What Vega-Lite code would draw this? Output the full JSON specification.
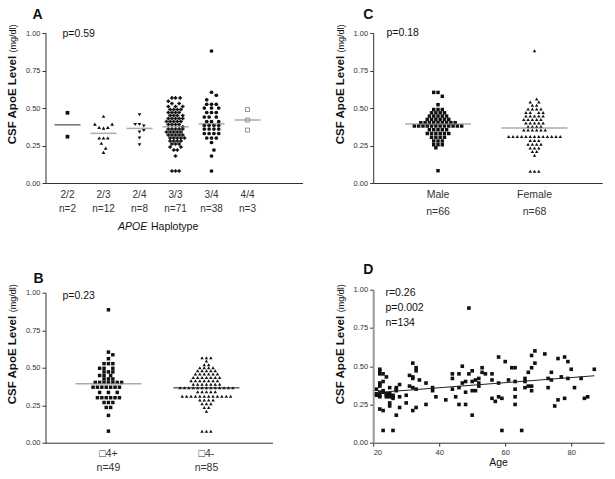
{
"$schema":"https://vega.github.io/schema/vega-lite/v6.json",
"background":"white",
"padding":{"left":5.5,"top":7,"right":5,"bottom":5},
"config":{"font":"Liberation Sans","view":{"stroke":null},
"axis":{"grid":false,"domainColor":"#333","tickColor":"#333","labelColor":"#333","titleColor":"#111","labelFontSize":7.5,"tickSize":3.5,"labelPadding":2,"titleFontWeight":"normal"},
"title":{"fontSize":14,"fontWeight":"bold","anchor":"start","frame":"group","color":"#111","baseline":"alphabetic"}},
"datasets":{
"A":[
{"g":"2/2","v":0.468,"s":0},{"g":"2/2","v":0.309,"s":0},
{"g":"2/3","v":0.445,"s":0},{"g":"2/3","v":0.393,"s":-2.4},{"g":"2/3","v":0.371,"s":-1.2},{"g":"2/3","v":0.366,"s":0},{"g":"2/3","v":0.371,"s":1.2},{"g":"2/3","v":0.393,"s":2.4},{"g":"2/3","v":0.3,"s":-1.2},{"g":"2/3","v":0.3,"s":0},{"g":"2/3","v":0.3,"s":1.2},{"g":"2/3","v":0.265,"s":-0.6},{"g":"2/3","v":0.233,"s":0.6},{"g":"2/3","v":0.204,"s":0},
{"g":"2/4","v":0.455,"s":0},{"g":"2/4","v":0.39,"s":-1.2},{"g":"2/4","v":0.39,"s":0},{"g":"2/4","v":0.38,"s":1.2},{"g":"2/4","v":0.35,"s":1.2},{"g":"2/4","v":0.34,"s":0},{"g":"2/4","v":0.3,"s":0},{"g":"2/4","v":0.255,"s":0},
{"g":"3/3","v":0.567,"s":-1},{"g":"3/3","v":0.567,"s":0},{"g":"3/3","v":0.567,"s":1.3},
{"g":"3/3","v":0.545,"s":-2},
{"g":"3/3","v":0.53,"s":-1},{"g":"3/3","v":0.53,"s":1},
{"g":"3/3","v":0.51,"s":-2},{"g":"3/3","v":0.51,"s":0},{"g":"3/3","v":0.51,"s":2},
{"g":"3/3","v":0.49,"s":-1.5},{"g":"3/3","v":0.49,"s":-0.5},{"g":"3/3","v":0.49,"s":0.5},{"g":"3/3","v":0.49,"s":1.5},
{"g":"3/3","v":0.47,"s":-2},{"g":"3/3","v":0.47,"s":-1},{"g":"3/3","v":0.47,"s":0},{"g":"3/3","v":0.47,"s":1},
{"g":"3/3","v":0.45,"s":-1.5},{"g":"3/3","v":0.45,"s":-0.5},{"g":"3/3","v":0.45,"s":0.5},{"g":"3/3","v":0.45,"s":2},
{"g":"3/3","v":0.43,"s":-2},{"g":"3/3","v":0.43,"s":-1},{"g":"3/3","v":0.43,"s":0},{"g":"3/3","v":0.43,"s":1},{"g":"3/3","v":0.43,"s":2},
{"g":"3/3","v":0.41,"s":-2.5},{"g":"3/3","v":0.41,"s":-1.5},{"g":"3/3","v":0.41,"s":-0.5},{"g":"3/3","v":0.41,"s":0.5},{"g":"3/3","v":0.41,"s":1.5},
{"g":"3/3","v":0.39,"s":-2},{"g":"3/3","v":0.39,"s":-1},{"g":"3/3","v":0.39,"s":0},{"g":"3/3","v":0.39,"s":1},
{"g":"3/3","v":0.375,"s":2},
{"g":"3/3","v":0.36,"s":-2},{"g":"3/3","v":0.36,"s":-1},{"g":"3/3","v":0.36,"s":0},{"g":"3/3","v":0.36,"s":1},{"g":"3/3","v":0.36,"s":2},
{"g":"3/3","v":0.34,"s":-2.5},{"g":"3/3","v":0.34,"s":-1.5},{"g":"3/3","v":0.34,"s":-0.5},{"g":"3/3","v":0.34,"s":0.5},{"g":"3/3","v":0.34,"s":1.5},
{"g":"3/3","v":0.32,"s":-2},{"g":"3/3","v":0.32,"s":-1},{"g":"3/3","v":0.32,"s":0},{"g":"3/3","v":0.32,"s":1},{"g":"3/3","v":0.32,"s":2},
{"g":"3/3","v":0.3,"s":-1.5},{"g":"3/3","v":0.3,"s":-0.5},{"g":"3/3","v":0.3,"s":0.5},{"g":"3/3","v":0.3,"s":1.5},{"g":"3/3","v":0.3,"s":2.5},
{"g":"3/3","v":0.28,"s":-1.5},{"g":"3/3","v":0.28,"s":-0.5},{"g":"3/3","v":0.28,"s":0.5},{"g":"3/3","v":0.28,"s":1.5},
{"g":"3/3","v":0.26,"s":-1},{"g":"3/3","v":0.26,"s":0},{"g":"3/3","v":0.26,"s":1},
{"g":"3/3","v":0.24,"s":-1.5},{"g":"3/3","v":0.24,"s":1.5},
{"g":"3/3","v":0.22,"s":-0.5},{"g":"3/3","v":0.22,"s":0.5},
{"g":"3/3","v":0.18,"s":0},
{"g":"3/3","v":0.08,"s":-1},{"g":"3/3","v":0.08,"s":0},{"g":"3/3","v":0.08,"s":1},
{"g":"3/4","v":0.88,"s":0},{"g":"3/4","v":0.605,"s":0},{"g":"3/4","v":0.585,"s":1.33},{"g":"3/4","v":0.555,"s":-1.33},
{"g":"3/4","v":0.525,"s":-1.33},{"g":"3/4","v":0.525,"s":0},{"g":"3/4","v":0.525,"s":1.33},
{"g":"3/4","v":0.5,"s":-2},{"g":"3/4","v":0.5,"s":0},{"g":"3/4","v":0.5,"s":2},
{"g":"3/4","v":0.47,"s":-1.33},{"g":"3/4","v":0.47,"s":0},{"g":"3/4","v":0.47,"s":1.33},
{"g":"3/4","v":0.44,"s":-2},{"g":"3/4","v":0.44,"s":-0.67},{"g":"3/4","v":0.44,"s":1.33},
{"g":"3/4","v":0.41,"s":-1.33},{"g":"3/4","v":0.41,"s":0},{"g":"3/4","v":0.41,"s":2},
{"g":"3/4","v":0.385,"s":-2},{"g":"3/4","v":0.385,"s":-0.67},{"g":"3/4","v":0.385,"s":0.67},{"g":"3/4","v":0.385,"s":2},
{"g":"3/4","v":0.36,"s":-2},{"g":"3/4","v":0.36,"s":-0.67},{"g":"3/4","v":0.36,"s":0.67},{"g":"3/4","v":0.36,"s":2},
{"g":"3/4","v":0.33,"s":-2},{"g":"3/4","v":0.33,"s":-0.67},{"g":"3/4","v":0.33,"s":0.67},{"g":"3/4","v":0.33,"s":2},
{"g":"3/4","v":0.3,"s":-1.33},{"g":"3/4","v":0.3,"s":0},{"g":"3/4","v":0.3,"s":1.33},
{"g":"3/4","v":0.27,"s":0},{"g":"3/4","v":0.22,"s":0.67},{"g":"3/4","v":0.18,"s":0},{"g":"3/4","v":0.08,"s":0},
{"g":"4/4","v":0.49,"s":0},{"g":"4/4","v":0.42,"s":0},{"g":"4/4","v":0.353,"s":0}
],
"Amed":[{"g":"2/2","v":0.388},{"g":"2/3","v":0.331},{"g":"2/4","v":0.364},{"g":"3/3","v":0.375},{"g":"3/4","v":0.395},{"g":"4/4","v":0.42}],
"Atxt":[{"g":"2/2","v":0.972,"t":"p=0.59"}],
"B":[
{"g":"□4+","v":0.886,"s":0},{"g":"□4+","v":0.604,"s":0},{"g":"□4+","v":0.586,"s":1},{"g":"□4+","v":0.56,"s":0},
{"g":"□4+","v":0.527,"s":-1},{"g":"□4+","v":0.527,"s":0},{"g":"□4+","v":0.527,"s":1},
{"g":"□4+","v":0.496,"s":-2},{"g":"□4+","v":0.496,"s":-1},{"g":"□4+","v":0.496,"s":1},
{"g":"□4+","v":0.472,"s":-1},{"g":"□4+","v":0.472,"s":0},{"g":"□4+","v":0.472,"s":1},
{"g":"□4+","v":0.448,"s":-2},{"g":"□4+","v":0.448,"s":-1},{"g":"□4+","v":0.448,"s":0.5},
{"g":"□4+","v":0.425,"s":-1},{"g":"□4+","v":0.425,"s":0},{"g":"□4+","v":0.425,"s":1},
{"g":"□4+","v":0.402,"s":-3},{"g":"□4+","v":0.402,"s":-2},{"g":"□4+","v":0.402,"s":-1},{"g":"□4+","v":0.402,"s":0},{"g":"□4+","v":0.402,"s":1},{"g":"□4+","v":0.402,"s":2},{"g":"□4+","v":0.402,"s":3},
{"g":"□4+","v":0.37,"s":-3.5},{"g":"□4+","v":0.37,"s":-2.5},{"g":"□4+","v":0.37,"s":-1.5},{"g":"□4+","v":0.37,"s":-0.5},{"g":"□4+","v":0.37,"s":0.5},{"g":"□4+","v":0.37,"s":1.5},{"g":"□4+","v":0.37,"s":2.5},
{"g":"□4+","v":0.335,"s":-2},{"g":"□4+","v":0.335,"s":0},{"g":"□4+","v":0.335,"s":2},
{"g":"□4+","v":0.3,"s":-2.5},{"g":"□4+","v":0.3,"s":-1.5},{"g":"□4+","v":0.3,"s":-0.5},{"g":"□4+","v":0.3,"s":0.5},{"g":"□4+","v":0.3,"s":1.5},{"g":"□4+","v":0.3,"s":2.5},
{"g":"□4+","v":0.268,"s":-1},{"g":"□4+","v":0.268,"s":0},{"g":"□4+","v":0.268,"s":1},
{"g":"□4+","v":0.235,"s":-0.5},{"g":"□4+","v":0.235,"s":0.5},
{"g":"□4+","v":0.182,"s":0},{"g":"□4+","v":0.077,"s":0},
{"g":"□4-","v":0.566,"s":-1},{"g":"□4-","v":0.566,"s":0},{"g":"□4-","v":0.566,"s":1},
{"g":"□4-","v":0.545,"s":0},
{"g":"□4-","v":0.52,"s":-0.5},{"g":"□4-","v":0.52,"s":0.5},
{"g":"□4-","v":0.5,"s":-1.5},{"g":"□4-","v":0.5,"s":-0.5},{"g":"□4-","v":0.5,"s":0.5},{"g":"□4-","v":0.5,"s":1.5},
{"g":"□4-","v":0.48,"s":-2},{"g":"□4-","v":0.48,"s":-1},{"g":"□4-","v":0.48,"s":0},{"g":"□4-","v":0.48,"s":1},{"g":"□4-","v":0.48,"s":2},
{"g":"□4-","v":0.458,"s":-2.5},{"g":"□4-","v":0.458,"s":-1.5},{"g":"□4-","v":0.458,"s":-0.5},{"g":"□4-","v":0.458,"s":0.5},{"g":"□4-","v":0.458,"s":1.5},{"g":"□4-","v":0.458,"s":2.5},
{"g":"□4-","v":0.435,"s":-3},{"g":"□4-","v":0.435,"s":-2},{"g":"□4-","v":0.435,"s":-1},{"g":"□4-","v":0.435,"s":0},{"g":"□4-","v":0.435,"s":1},{"g":"□4-","v":0.435,"s":2},{"g":"□4-","v":0.435,"s":3},
{"g":"□4-","v":0.413,"s":-3.5},{"g":"□4-","v":0.413,"s":-2.5},{"g":"□4-","v":0.413,"s":-1.5},{"g":"□4-","v":0.413,"s":-0.5},{"g":"□4-","v":0.413,"s":0.5},{"g":"□4-","v":0.413,"s":1.5},{"g":"□4-","v":0.413,"s":2.5},
{"g":"□4-","v":0.39,"s":-3},{"g":"□4-","v":0.39,"s":-2},{"g":"□4-","v":0.39,"s":-1},{"g":"□4-","v":0.39,"s":0},{"g":"□4-","v":0.39,"s":1},{"g":"□4-","v":0.39,"s":2},{"g":"□4-","v":0.39,"s":3},
{"g":"□4-","v":0.366,"s":-6},{"g":"□4-","v":0.366,"s":-5},{"g":"□4-","v":0.366,"s":-4},{"g":"□4-","v":0.366,"s":-3},{"g":"□4-","v":0.366,"s":-2},{"g":"□4-","v":0.366,"s":-1},{"g":"□4-","v":0.366,"s":0},{"g":"□4-","v":0.366,"s":1},{"g":"□4-","v":0.366,"s":2},{"g":"□4-","v":0.366,"s":3},{"g":"□4-","v":0.366,"s":4},{"g":"□4-","v":0.366,"s":5},{"g":"□4-","v":0.366,"s":6},
{"g":"□4-","v":0.34,"s":-2},{"g":"□4-","v":0.34,"s":-1},{"g":"□4-","v":0.34,"s":0},{"g":"□4-","v":0.34,"s":1},{"g":"□4-","v":0.34,"s":2},
{"g":"□4-","v":0.31,"s":-5.5},{"g":"□4-","v":0.31,"s":-4.5},{"g":"□4-","v":0.31,"s":-3.5},{"g":"□4-","v":0.31,"s":-2.5},{"g":"□4-","v":0.31,"s":-1.5},{"g":"□4-","v":0.31,"s":-0.5},{"g":"□4-","v":0.31,"s":0.5},{"g":"□4-","v":0.31,"s":1.5},{"g":"□4-","v":0.31,"s":2.5},{"g":"□4-","v":0.31,"s":3.5},{"g":"□4-","v":0.31,"s":4.5},{"g":"□4-","v":0.31,"s":5.5},
{"g":"□4-","v":0.285,"s":-1.5},{"g":"□4-","v":0.285,"s":-0.5},{"g":"□4-","v":0.285,"s":0.5},{"g":"□4-","v":0.285,"s":1.5},
{"g":"□4-","v":0.26,"s":-1},{"g":"□4-","v":0.26,"s":0},{"g":"□4-","v":0.26,"s":1},
{"g":"□4-","v":0.235,"s":-0.5},{"g":"□4-","v":0.235,"s":0.5},
{"g":"□4-","v":0.21,"s":0},
{"g":"□4-","v":0.077,"s":-1},{"g":"□4-","v":0.077,"s":0},{"g":"□4-","v":0.077,"s":1}
],
"Bmed":[{"g":"□4+","v":0.393},{"g":"□4-","v":0.366}],
"Btxt":[{"g":"□4+","v":0.958,"t":"p=0.23"}],
"C":[
{"g":"Male","v":0.604,"s":-1},{"g":"Male","v":0.604,"s":0},{"g":"Male","v":0.578,"s":1},{"g":"Male","v":0.522,"s":0},
{"g":"Male","v":0.49,"s":-1},{"g":"Male","v":0.49,"s":0},{"g":"Male","v":0.49,"s":1},
{"g":"Male","v":0.468,"s":-1.5},{"g":"Male","v":0.468,"s":-0.5},{"g":"Male","v":0.468,"s":0.5},{"g":"Male","v":0.468,"s":1.5},
{"g":"Male","v":0.446,"s":-2},{"g":"Male","v":0.446,"s":-1},{"g":"Male","v":0.446,"s":0},{"g":"Male","v":0.446,"s":1},{"g":"Male","v":0.446,"s":2},
{"g":"Male","v":0.424,"s":-2.5},{"g":"Male","v":0.424,"s":-1.5},{"g":"Male","v":0.424,"s":-0.5},{"g":"Male","v":0.424,"s":0.5},{"g":"Male","v":0.424,"s":1.5},{"g":"Male","v":0.424,"s":2.5},
{"g":"Male","v":0.402,"s":-4},{"g":"Male","v":0.402,"s":-3},{"g":"Male","v":0.402,"s":-2},{"g":"Male","v":0.402,"s":-1},{"g":"Male","v":0.402,"s":0},{"g":"Male","v":0.402,"s":1},{"g":"Male","v":0.402,"s":2},{"g":"Male","v":0.402,"s":3},{"g":"Male","v":0.402,"s":4},
{"g":"Male","v":0.38,"s":-5.5},{"g":"Male","v":0.38,"s":-4.5},{"g":"Male","v":0.38,"s":-3.5},{"g":"Male","v":0.38,"s":-2.5},{"g":"Male","v":0.38,"s":-1.5},{"g":"Male","v":0.38,"s":-0.5},{"g":"Male","v":0.38,"s":0.5},{"g":"Male","v":0.38,"s":1.5},{"g":"Male","v":0.38,"s":2.5},{"g":"Male","v":0.38,"s":3.5},{"g":"Male","v":0.38,"s":4.5},{"g":"Male","v":0.38,"s":5.5},
{"g":"Male","v":0.355,"s":-2},{"g":"Male","v":0.355,"s":-1},{"g":"Male","v":0.355,"s":0},{"g":"Male","v":0.355,"s":1},{"g":"Male","v":0.355,"s":2},
{"g":"Male","v":0.33,"s":-2.5},{"g":"Male","v":0.33,"s":-1.5},{"g":"Male","v":0.33,"s":-0.5},{"g":"Male","v":0.33,"s":0.5},{"g":"Male","v":0.33,"s":1.5},{"g":"Male","v":0.33,"s":2.5},
{"g":"Male","v":0.305,"s":-1.5},{"g":"Male","v":0.305,"s":-0.5},{"g":"Male","v":0.305,"s":0.5},{"g":"Male","v":0.305,"s":1.5},
{"g":"Male","v":0.28,"s":-1},{"g":"Male","v":0.28,"s":0},{"g":"Male","v":0.28,"s":1},
{"g":"Male","v":0.255,"s":-1},{"g":"Male","v":0.255,"s":0},{"g":"Male","v":0.255,"s":1},
{"g":"Male","v":0.235,"s":-0.5},{"g":"Male","v":0.082,"s":0},
{"g":"Female","v":0.882,"s":0},{"g":"Female","v":0.56,"s":0.5},{"g":"Female","v":0.54,"s":-1},{"g":"Female","v":0.54,"s":1},
{"g":"Female","v":0.518,"s":-0.5},{"g":"Female","v":0.518,"s":0.5},
{"g":"Female","v":0.493,"s":-1.5},{"g":"Female","v":0.493,"s":-0.5},{"g":"Female","v":0.493,"s":0.5},{"g":"Female","v":0.493,"s":1.5},
{"g":"Female","v":0.47,"s":-2},{"g":"Female","v":0.47,"s":-1},{"g":"Female","v":0.47,"s":1},{"g":"Female","v":0.47,"s":2},
{"g":"Female","v":0.447,"s":-2},{"g":"Female","v":0.447,"s":-1},{"g":"Female","v":0.447,"s":0},{"g":"Female","v":0.447,"s":1},{"g":"Female","v":0.447,"s":2},
{"g":"Female","v":0.424,"s":-2.5},{"g":"Female","v":0.424,"s":-1.5},{"g":"Female","v":0.424,"s":-0.5},{"g":"Female","v":0.424,"s":0.5},{"g":"Female","v":0.424,"s":1.5},
{"g":"Female","v":0.4,"s":-2},{"g":"Female","v":0.4,"s":-1},{"g":"Female","v":0.4,"s":0},{"g":"Female","v":0.4,"s":1},{"g":"Female","v":0.4,"s":2},
{"g":"Female","v":0.377,"s":-1.5},{"g":"Female","v":0.377,"s":-0.5},{"g":"Female","v":0.377,"s":0.5},{"g":"Female","v":0.377,"s":1.5},
{"g":"Female","v":0.354,"s":-2.5},{"g":"Female","v":0.354,"s":-1.5},{"g":"Female","v":0.354,"s":-0.5},{"g":"Female","v":0.354,"s":0.5},{"g":"Female","v":0.354,"s":1.5},{"g":"Female","v":0.354,"s":2.5},
{"g":"Female","v":0.31,"s":-6},{"g":"Female","v":0.31,"s":-5},{"g":"Female","v":0.31,"s":-4},{"g":"Female","v":0.31,"s":-3},{"g":"Female","v":0.31,"s":-2},{"g":"Female","v":0.31,"s":-1},{"g":"Female","v":0.31,"s":0},{"g":"Female","v":0.31,"s":1},{"g":"Female","v":0.31,"s":2},{"g":"Female","v":0.31,"s":3},{"g":"Female","v":0.31,"s":4},{"g":"Female","v":0.31,"s":5},{"g":"Female","v":0.31,"s":6},
{"g":"Female","v":0.283,"s":-1},{"g":"Female","v":0.283,"s":0},{"g":"Female","v":0.283,"s":1},
{"g":"Female","v":0.258,"s":-1.5},{"g":"Female","v":0.258,"s":-0.5},{"g":"Female","v":0.258,"s":0.5},{"g":"Female","v":0.258,"s":1.5},
{"g":"Female","v":0.233,"s":-1},{"g":"Female","v":0.233,"s":0},{"g":"Female","v":0.233,"s":1},
{"g":"Female","v":0.21,"s":-0.5},{"g":"Female","v":0.21,"s":0.5},
{"g":"Female","v":0.185,"s":0},
{"g":"Female","v":0.078,"s":-1},{"g":"Female","v":0.078,"s":0},{"g":"Female","v":0.078,"s":1}
],
"Cmed":[{"g":"Male","v":0.393},{"g":"Female","v":0.366}],
"Ctxt":[{"g":"Male","v":0.977,"t":"p=0.18"}],
"D":[
{"a":21,"v":0.32},{"a":21,"v":0.31},{"a":21,"v":0.35},
{"a":22,"v":0.48},{"a":22,"v":0.47},{"a":22,"v":0.45},{"a":22,"v":0.38},{"a":22,"v":0.37},{"a":22,"v":0.33},{"a":22,"v":0.3},{"a":22,"v":0.22},{"a":22,"v":0.39},{"a":22,"v":0.31},
{"a":23,"v":0.45},{"a":23,"v":0.4},{"a":23,"v":0.33},{"a":23,"v":0.21},{"a":23,"v":0.08},{"a":23,"v":0.34},
{"a":24,"v":0.43},{"a":24,"v":0.31},{"a":24,"v":0.3},{"a":24,"v":0.32},
{"a":25,"v":0.36},{"a":25,"v":0.32},{"a":25,"v":0.3},{"a":25,"v":0.26},{"a":25,"v":0.24},{"a":25,"v":0.31},
{"a":26,"v":0.31},{"a":26,"v":0.3},{"a":26,"v":0.08},{"a":26,"v":0.29},
{"a":27,"v":0.36},{"a":27,"v":0.34},{"a":27,"v":0.18},{"a":27,"v":0.35},
{"a":28,"v":0.38},{"a":28,"v":0.3},{"a":28,"v":0.23},
{"a":30,"v":0.31},{"a":30,"v":0.26},
{"a":31,"v":0.44},{"a":31,"v":0.37},
{"a":32,"v":0.52},{"a":32,"v":0.43},{"a":32,"v":0.36},{"a":32,"v":0.21},{"a":32,"v":0.42},
{"a":33,"v":0.49},{"a":33,"v":0.47},{"a":33,"v":0.35},{"a":33,"v":0.23},
{"a":34,"v":0.41},
{"a":36,"v":0.39},{"a":36,"v":0.25},
{"a":38,"v":0.36},{"a":38,"v":0.34},
{"a":39,"v":0.3},
{"a":42,"v":0.28},
{"a":44,"v":0.45},{"a":44,"v":0.42},{"a":44,"v":0.35},
{"a":45,"v":0.3},
{"a":46,"v":0.45},{"a":46,"v":0.36},{"a":46,"v":0.25},
{"a":47,"v":0.5},{"a":47,"v":0.39},
{"a":48,"v":0.4},{"a":48,"v":0.33},{"a":48,"v":0.25},
{"a":49,"v":0.88},{"a":49,"v":0.45},
{"a":50,"v":0.47},{"a":50,"v":0.4},{"a":50,"v":0.34},{"a":50,"v":0.18},
{"a":51,"v":0.41},{"a":51,"v":0.34},
{"a":52,"v":0.42},{"a":52,"v":0.39},{"a":52,"v":0.37},
{"a":53,"v":0.49},{"a":53,"v":0.46},
{"a":54,"v":0.45},
{"a":56,"v":0.45},{"a":56,"v":0.41},{"a":56,"v":0.29},
{"a":57,"v":0.27},
{"a":58,"v":0.56},{"a":58,"v":0.39},{"a":58,"v":0.3},
{"a":59,"v":0.29},{"a":59,"v":0.08},
{"a":60,"v":0.53},
{"a":61,"v":0.41},
{"a":62,"v":0.49},
{"a":63,"v":0.49},{"a":63,"v":0.4},{"a":63,"v":0.35},{"a":63,"v":0.3},{"a":63,"v":0.25},
{"a":65,"v":0.08},
{"a":66,"v":0.42},{"a":66,"v":0.4},{"a":66,"v":0.36},
{"a":67,"v":0.46},{"a":67,"v":0.37},
{"a":68,"v":0.57},{"a":68,"v":0.49},{"a":68,"v":0.37},{"a":68,"v":0.34},
{"a":69,"v":0.6},{"a":69,"v":0.52},
{"a":72,"v":0.58},
{"a":73,"v":0.42},{"a":73,"v":0.36},
{"a":74,"v":0.46},{"a":74,"v":0.41},
{"a":75,"v":0.24},
{"a":76,"v":0.55},{"a":76,"v":0.28},
{"a":77,"v":0.43},
{"a":78,"v":0.56},{"a":78,"v":0.29},
{"a":79,"v":0.53},{"a":79,"v":0.42},
{"a":80,"v":0.48},
{"a":81,"v":0.36},
{"a":83,"v":0.42},
{"a":84,"v":0.29},
{"a":85,"v":0.3},
{"a":87,"v":0.48}
],
"Dtxt":[{"a":23.7,"v":0.961,"t":"r=0.26\np=0.002\nn=134"}]
},
"columns":2,
"align":"each",
"bounds":"flush",
"spacing":{"row":106.7,"column":70.7},
"resolve":{"scale":{"shape":"independent","color":"independent","xOffset":"independent"}},
"concat":[
{
"title":{"text":"A","dx":-13,"offset":2},
"width":257,"height":150,
"resolve":{"axis":{"x":"independent","y":"independent"}},
"layer":[
{"data":{"name":"A"},"transform":[{"filter":"datum.g != '4/4'"}],
"mark":{"type":"point","filled":true,"color":"#111","opacity":1,"size":14},
"encoding":{
"x":{"field":"g","type":"nominal","sort":["2/2","2/3","2/4","3/3","3/4","4/4"],"scale":{"domain":["2/2","2/3","2/4","3/3","3/4","4/4"],"paddingInner":0,"paddingOuter":0.569,"align":0.0976},
"axis":{"title":"Haplotype","labelExpr":"datum.value=='2/2'?['2/2','n=2']:datum.value=='2/3'?['2/3','n=12']:datum.value=='2/4'?['2/4','n=8']:datum.value=='3/3'?['3/3','n=71']:datum.value=='3/4'?['3/4','n=38']:['4/4','n=3']","labelAngle":0,"ticks":false,"labelPadding":6,"labelFontSize":10,"labelLineHeight":14,"labelBaseline":"top","titleFontSize":10.5,"titleX":105,"titleY":46.7,"titleAlign":"left","titleBaseline":"alphabetic"}},
"xOffset":{"field":"s","type":"quantitative","scale":{"domain":[-5,5],"range":[0,36],"nice":false,"zero":false}},
"y":{"field":"v","type":"quantitative","scale":{"domain":[0,1],"nice":false},
"axis":{"title":"CSF ApoE Level","values":[0,0.25,0.5,0.75,1],"format":".2f","titleFontSize":11.5,"titleFontWeight":"bold","titleX":-30.5,"titleY":110.7,"titleAlign":"left","titleBaseline":"alphabetic","titleAngle":270}},
"shape":{"field":"g","type":"nominal","scale":{"domain":["2/2","2/3","2/4","3/3","3/4"],"range":["square","triangle-up","triangle-down","cross","circle"]},"legend":null}
}},
{"data":{"name":"A"},"transform":[{"filter":"datum.g == '4/4'"}],
"mark":{"type":"point","shape":"square","filled":false,"color":"#666","strokeWidth":1,"size":16},
"encoding":{"x":{"field":"g","type":"nominal","axis":null},"xOffset":{"field":"s","type":"quantitative"},"y":{"field":"v","type":"quantitative","axis":null}}},
{"data":{"name":"Amed"},
"mark":{"type":"tick","thickness":1.5,"size":26},
"encoding":{
"x":{"field":"g","type":"nominal","axis":{"orient":"bottom","title":"APOE","titleFontStyle":"italic","domain":false,"ticks":false,"labels":false,"titleFontSize":10.5,"titleX":72,"titleY":46.7,"titleAlign":"left","titleBaseline":"alphabetic"}},
"y":{"field":"v","type":"quantitative","axis":{"orient":"left","title":"(mg/dl)","domain":false,"ticks":false,"labels":false,"titleFontSize":9,"titleX":-30.5,"titleY":18.9,"titleAlign":"left","titleBaseline":"alphabetic","titleAngle":270}},
"color":{"field":"g","type":"nominal","scale":{"domain":["2/2","2/3","2/4","3/3","3/4","4/4"],"range":["#333","#888","#888","#888","#888","#888"]},"legend":null}
}},
{"data":{"name":"Atxt"},
"mark":{"type":"text","align":"left","baseline":"alphabetic","fontSize":10.5,"dx":-5,"color":"#111"},
"encoding":{"x":{"field":"g","type":"nominal","axis":null},"y":{"field":"v","type":"quantitative","axis":null},"text":{"field":"t"}}}
]
},
{
"title":{"text":"C","dx":-10,"offset":2},
"width":229,"height":150,
"resolve":{"axis":{"y":"independent"}},
"layer":[
{"data":{"name":"C"},
"mark":{"type":"point","filled":true,"color":"#111","opacity":1,"size":12},
"encoding":{
"x":{"field":"g","type":"nominal","sort":["Male","Female"],"scale":{"domain":["Male","Female"],"paddingInner":0,"paddingOuter":0.1865,"align":0.46},
"axis":{"title":null,"labelExpr":"datum.value=='Male'?['Male','n=66']:['Female','n=68']","labelAngle":0,"ticks":false,"labelPadding":6,"labelFontSize":10.5,"labelLineHeight":17,"labelBaseline":"top"}},
"xOffset":{"field":"s","type":"quantitative","scale":{"domain":[-11.22,11.22],"range":[0,96.5],"nice":false,"zero":false}},
"y":{"field":"v","type":"quantitative","scale":{"domain":[0,1],"nice":false},
"axis":{"title":"CSF ApoE Level","values":[0,0.25,0.5,0.75,1],"format":".2f","titleFontSize":11.5,"titleFontWeight":"bold","titleX":-30,"titleY":110.7,"titleAlign":"left","titleBaseline":"alphabetic","titleAngle":270}},
"shape":{"field":"g","type":"nominal","scale":{"domain":["Male","Female"],"range":["square","triangle-up"]},"legend":null}
}},
{"data":{"name":"Cmed"},
"mark":{"type":"tick","thickness":1.5,"size":66,"color":"#888"},
"encoding":{
"x":{"field":"g","type":"nominal"},
"y":{"field":"v","type":"quantitative","axis":{"orient":"left","title":"(mg/dl)","domain":false,"ticks":false,"labels":false,"titleFontSize":9,"titleX":-30,"titleY":18.9,"titleAlign":"left","titleBaseline":"alphabetic","titleAngle":270}}
}},
{"data":{"name":"Ctxt"},
"mark":{"type":"text","align":"left","baseline":"alphabetic","fontSize":10.5,"dx":-51.5,"color":"#111"},
"encoding":{"x":{"field":"g","type":"nominal"},"y":{"field":"v","type":"quantitative","axis":null},"text":{"field":"t"}}}
]
},
{
"title":{"text":"B","dx":-12,"offset":-2},
"width":227,"height":153,
"resolve":{"axis":{"y":"independent"}},
"layer":[
{"data":{"name":"B"},
"mark":{"type":"point","filled":true,"color":"#111","opacity":1,"size":12},
"encoding":{
"x":{"field":"g","type":"nominal","sort":["□4+","□4-"],"scale":{"domain":["□4+","□4-"],"paddingInner":0,"paddingOuter":0.158,"align":0.45},
"axis":{"title":null,"labelExpr":"datum.value=='□4+'?['□4+','n=49']:['□4-','n=85']","labelAngle":0,"ticks":false,"labelPadding":6,"labelFontSize":10.5,"labelLineHeight":14,"labelBaseline":"top"}},
"xOffset":{"field":"s","type":"quantitative","scale":{"domain":[-11.14,11.14],"range":[0,98],"nice":false,"zero":false}},
"y":{"field":"v","type":"quantitative","scale":{"domain":[0,1],"nice":false,"range":[153,3]},
"axis":{"title":"CSF ApoE Level","values":[0,0.25,0.5,0.75,1],"format":".2f","titleFontSize":11.5,"titleFontWeight":"bold","titleX":-30.5,"titleY":114,"titleAlign":"left","titleBaseline":"alphabetic","titleAngle":270}},
"shape":{"field":"g","type":"nominal","scale":{"domain":["□4+","□4-"],"range":["square","triangle-up"]},"legend":null}
}},
{"data":{"name":"Bmed"},
"mark":{"type":"tick","thickness":1.5,"size":66},
"encoding":{
"x":{"field":"g","type":"nominal"},
"y":{"field":"v","type":"quantitative","axis":{"orient":"left","title":"(mg/dl)","domain":false,"ticks":false,"labels":false,"titleFontSize":9,"titleX":-30.5,"titleY":22,"titleAlign":"left","titleBaseline":"alphabetic","titleAngle":270}},
"color":{"field":"g","type":"nominal","scale":{"domain":["□4+","□4-"],"range":["#888","#222"]},"legend":null}
}},
{"data":{"name":"Btxt"},
"mark":{"type":"text","align":"left","baseline":"alphabetic","fontSize":10.5,"dx":-46,"color":"#111"},
"encoding":{"x":{"field":"g","type":"nominal"},"y":{"field":"v","type":"quantitative","axis":null},"text":{"field":"t"}}}
]
},
{
"title":{"text":"D","dx":-10,"offset":7},
"width":231,"height":153,
"resolve":{"axis":{"y":"independent"}},
"layer":[
{"data":{"name":"D"},
"mark":{"type":"square","color":"#111","opacity":1,"size":13},
"encoding":{
"x":{"field":"a","type":"quantitative","scale":{"domain":[20,90],"nice":false,"zero":false},
"axis":{"title":"Age","values":[20,30,40,50,60,70,80,90],"titleFontSize":10.5,"titleX":124.8,"titleY":23,"titleBaseline":"alphabetic"}},
"y":{"field":"v","type":"quantitative","scale":{"domain":[0,1],"nice":false},
"axis":{"title":"CSF ApoE Level","values":[0,0.25,0.5,0.75,1],"format":".2f","domainColor":"#999","domainWidth":2,"titleFontSize":11.5,"titleFontWeight":"bold","titleX":-30,"titleY":114,"titleAlign":"left","titleBaseline":"alphabetic","titleAngle":270}}
}},
{"data":{"name":"D"},
"transform":[{"regression":"v","on":"a","extent":[21,87]}],
"mark":{"type":"line","color":"#222","strokeWidth":1},
"encoding":{
"x":{"field":"a","type":"quantitative"},
"y":{"field":"v","type":"quantitative","axis":{"orient":"left","title":"(mg/dl)","domain":false,"ticks":false,"labels":false,"titleFontSize":9,"titleX":-30,"titleY":22,"titleAlign":"left","titleBaseline":"alphabetic","titleAngle":270}}
}},
{"data":{"name":"Dtxt"},
"mark":{"type":"text","align":"left","baseline":"alphabetic","fontSize":10.5,"lineBreak":"\n","lineHeight":15,"color":"#111"},
"encoding":{"x":{"field":"a","type":"quantitative"},"y":{"field":"v","type":"quantitative","axis":null},"text":{"field":"t"}}}
]
}
]
}
